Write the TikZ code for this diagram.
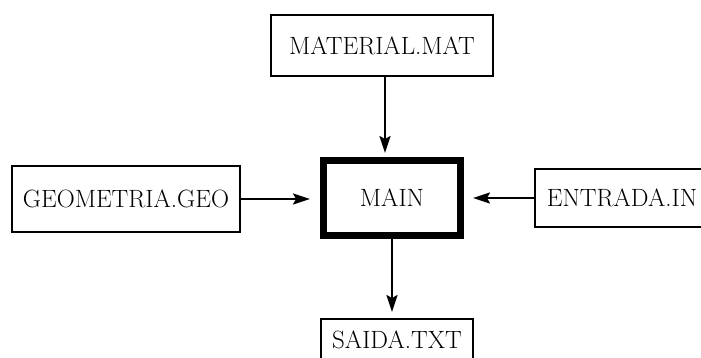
\documentclass[tikz,border=0pt]{standalone}
\usepackage{fontspec}
\usepackage{tikz}
\usetikzlibrary{arrows.meta,positioning,calc}

\begin{document}
\begin{tikzpicture}[x=1pt,y=-1pt,
  every node/.style={font=\fontsize{25}{28}\selectfont},
  filebox/.style={draw,line width=2pt,inner sep=0pt},
  mainbox/.style={draw,line width=7pt,inner sep=0pt,minimum width=137pt,minimum height=75pt},
  flow/.style={line width=2pt,-{Stealth[length=17pt,width=11pt,inset=3pt]}}]
  \useasboundingbox (0,0) rectangle (701,358);
  \clip (0,0) rectangle (701,358);
  \node[mainbox] (main) at (392,198) {MAIN};
  \node[filebox,minimum width=222pt,minimum height=61pt] (mat) at (382,45.5) {MATERIAL.MAT};
  \node[filebox,minimum width=228pt,minimum height=66pt] (geo) at (126,199) {GEOMETRIA.GEO};
  \node[filebox,minimum width=174pt,minimum height=58pt] (ent) at (622,198) {ENTRADA.IN};
  \node[filebox,minimum width=152pt,minimum height=42pt] (sai) at (397,340) {SAIDA.TXT};
  \draw[flow,shorten >=4pt] ([xshift=3pt]mat.south) -- ([xshift=3pt]mat.south |- main.north);
  \draw[flow,shorten >=10pt] (geo.east) -- (geo.east -| main.west);
  \draw[flow,shorten >=9pt] (ent.west) -- (ent.west -| main.east);
  \draw[flow,shorten >=6pt] (main.south) -- (main.south |- sai.north);
\end{tikzpicture}
\end{document}
